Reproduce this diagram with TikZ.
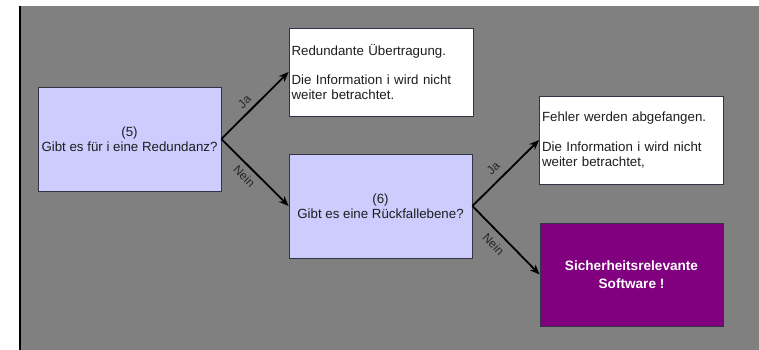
\documentclass[tikz,border=0pt]{standalone}
\usepackage{fontspec}
\setmainfont{Liberation Sans}
\usetikzlibrary{arrows.meta}
\definecolor{bg}{HTML}{808080}
\definecolor{lav}{HTML}{CCCCFF}
\definecolor{purp}{HTML}{800080}
\definecolor{txt}{HTML}{1E1E1E}
\definecolor{edge}{HTML}{333344}
\begin{document}
\begin{tikzpicture}[x=1pt,y=-1pt,
  box/.style={draw=edge, line width=0.8pt, inner sep=0pt, text=txt,
    font=\fontsize{13.3}{14.8}\selectfont, align=center},
  qbox/.style={box, fill=lav, minimum width=183pt, minimum height=104pt},
  infobox/.style={box, fill=white, minimum height=88pt, text width=179pt,
    inner xsep=2.5pt, align=left},
  alertbox/.style={box, fill=purp, text=white, minimum width=183pt, minimum height=103pt,
    font=\fontsize{13.6}{18}\selectfont\bfseries},
  arr/.style={-{Stealth[length=10pt,width=8pt]}, line width=1.8pt, black},
  lbl/.style={sloped, text=black!85, font=\fontsize{12}{13}\selectfont},
]
\useasboundingbox (0,0) rectangle (759,350);
\fill[bg] (19,6) rectangle (759,350);
\draw[black, line width=1.5pt] (19.75,6) -- (19.75,350);

\node[qbox] (q5) at (129.5,139) {(5)\\Gibt es für i eine Redundanz?};
\node[infobox] (r1) at (381,72) {Redundante Übertragung.\\[14.8pt]Die Information i wird nicht\\weiter betrachtet.};
\node[qbox] (q6) at (380.5,206) {(6)\\Gibt es eine Rückfallebene?};
\node[infobox] (r2) at (631.5,140) {Fehler werden abgefangen.\\[14.8pt]Die Information i wird nicht\\weiter betrachtet,};
\node[alertbox] (sw) at (631.5,274.5) {Sicherheitsrelevante\\Software !};

\draw[arr] (q5.east) -- node[lbl, above, pos=0.45, inner sep=5pt] {Ja} (r1.west);
\draw[arr] (q5.east) -- node[lbl, below, pos=0.45, inner sep=5pt] {Nein} (q6.west);
\draw[arr] (q6.east) -- node[lbl, above, pos=0.44, inner sep=7pt] {Ja} (r2.west);
\draw[arr] (q6.east) -- node[lbl, below, pos=0.44, inner sep=6.5pt] {Nein} (sw.west);
\end{tikzpicture}
\end{document}
